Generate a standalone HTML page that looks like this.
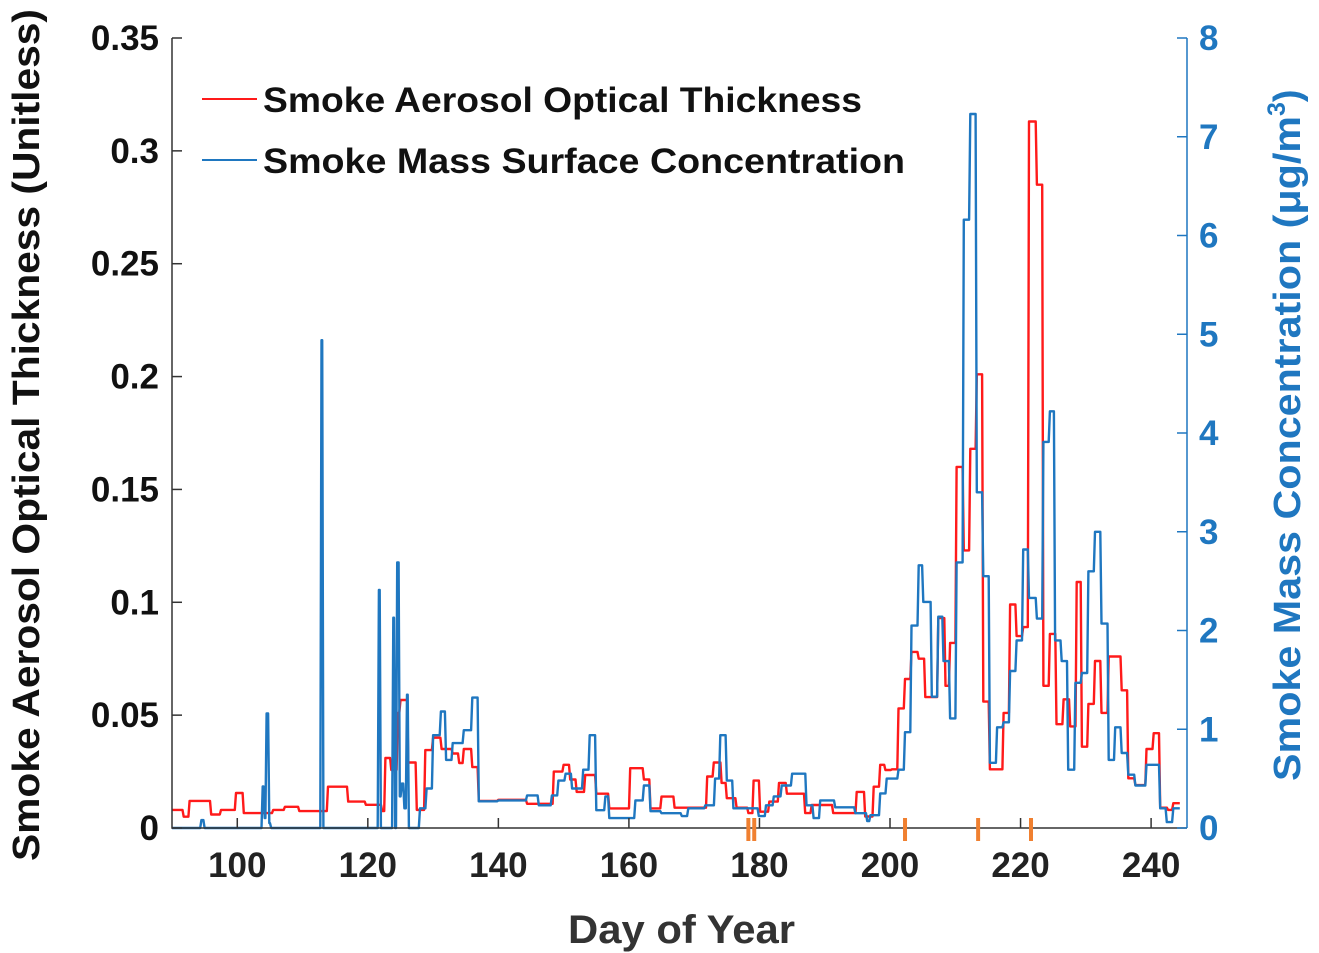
<!DOCTYPE html>
<html><head><meta charset="utf-8"><style>
html,body{margin:0;padding:0;background:#fff;}
svg{display:block;font-family:"Liberation Sans",Arial,sans-serif;font-weight:bold;}
</style></head><body>
<svg id="chart" width="1319" height="953" viewBox="0 0 1319 953">
</svg>
<script>
// Step series: change-point days and values
const aotDays = [90,91.8,92.7,96,97.5,99.8,101,105.5,107.3,109.5,113.9,117,119.7,122.2,122.7,123.6,124.6,125,126.2,127.5,128.8,130,131.3,133,134,134.7,136,137,140,144.4,148.5,150,151,152,153.3,155,157,160.2,162.3,163.3,165,167,172,173,174.2,175,176.5,178.3,179.1,180.1,181.5,183,184.2,187,188,191.3,194.9,196.2,197.5,198.5,199.3,200.3,201.3,202.3,203.3,204.4,205.4,207.4,208.5,209.2,210.2,211.3,212.3,213.3,214.3,215.3,217.4,218.4,219.4,220.4,221.3,222.5,223.5,224.5,225.5,226.6,227.6,228.6,229.4,230.4,231.4,232.4,233.5,235.5,236.5,237.6,239.3,240.4,241.4,242.6,243.4];
const aotVals = [0.008,0.005,0.012,0.006,0.008,0.0155,0.0066,0.008,0.0094,0.0075,0.0183,0.0117,0.0103,0.0075,0.031,0.0257,0.051,0.0567,0.029,0.008,0.0345,0.040,0.035,0.033,0.0288,0.035,0.027,0.012,0.0125,0.0107,0.025,0.028,0.0215,0.016,0.0235,0.0152,0.0087,0.0265,0.0215,0.0087,0.0139,0.009,0.0228,0.029,0.02,0.0132,0.009,0.0066,0.021,0.0072,0.0117,0.020,0.0152,0.0066,0.0102,0.0066,0.016,0.0051,0.0183,0.028,0.0257,0.026,0.053,0.066,0.078,0.075,0.058,0.093,0.063,0.082,0.160,0.123,0.168,0.201,0.056,0.026,0.051,0.099,0.085,0.089,0.313,0.285,0.063,0.086,0.046,0.057,0.045,0.109,0.036,0.055,0.074,0.051,0.076,0.061,0.022,0.019,0.035,0.042,0.009,0.008,0.011];
const smcDays = [90,94.5,95,103.9,104.2,104.5,104.9,105.2,112.9,113.2,113.5,121.7,122.0,122.3,123.9,124.2,124.5,124.9,125.2,125.6,126.0,126.3,126.6,128,129,130,131.2,132,133,134.7,136,137,140,144.4,146.2,148.2,149.2,150.3,151.3,153,154,155,156.4,157,161,162.3,163.3,165,168.1,169.1,171.7,173.2,174,175,176,179.9,181,182.2,183.4,185,187.2,188.3,189.3,191.6,194.7,196.5,197,198.5,199.5,200.3,201.3,202.3,203.3,204.4,205.1,206.4,207.4,208.2,209.2,210.2,211.3,212.3,213.3,214.3,215.3,216.4,217.4,218.4,219.4,220.4,221.3,222.5,223.5,224.5,225.3,226.3,227.3,228.4,229.4,230.4,231.4,232.4,233.5,234.5,235.5,236.5,237.6,239.3,241.4,242.4,243.4];
const smcVals = [0,0.08,0,0.42,0.1,1.16,0.05,0,4.94,0,0,2.41,0,0,2.13,0,2.69,0.32,0.45,0.2,1.35,0,0,0.2,0.4,0.94,1.18,0.69,0.86,0.99,1.32,0.27,0.28,0.33,0.23,0.33,0.48,0.55,0.4,0.59,0.94,0.18,0.32,0.1,0.28,0.43,0.17,0.15,0.12,0.2,0.23,0.5,0.94,0.48,0.2,0.12,0.23,0.32,0.43,0.55,0.23,0.1,0.28,0.21,0.15,0.07,0.13,0.35,0.5,0.5,0.59,0.97,2.05,2.66,2.29,1.33,2.14,1.69,1.11,2.69,6.16,7.23,3.4,2.55,0.66,1.02,1.07,1.59,1.9,2.82,2.33,2.12,3.91,4.22,1.9,1.69,0.59,1.47,1.57,2.6,3.0,2.07,0.69,1.02,0.76,0.54,0.43,0.64,0.2,0.06,0.2];
const xTicks = [100,120,140,160,180,200,220,240];
const yLeftTicks = [0,0.05,0.1,0.15,0.2,0.25,0.3,0.35];
const yLeftLabels = ["0","0.05","0.1","0.15","0.2","0.25","0.3","0.35"];
const yRightTicks = [0,1,2,3,4,5,6,7,8];
const markerDays = [178.3,179.2,202.3,213.5,221.6];

const L=172,R=1187,T=38,B=828;
const xMin=90,xMax=245.5;
const X=d=>L+(d-xMin)/(xMax-xMin)*(R-L);
const YL=v=>B-v/0.35*(B-T);
const YR=v=>B-v/8*(B-T);
const NS="http://www.w3.org/2000/svg";
const svg=document.getElementById('chart');
function mk(tag,attrs,parent){const e=document.createElementNS(NS,tag);for(const k in attrs)e.setAttribute(k,attrs[k]);(parent||svg).appendChild(e);return e;}

function stepPath(days,vals,Y){let d='M'+X(days[0]).toFixed(1)+' '+Y(vals[0]).toFixed(1);
 for(let i=1;i<days.length;i++){d+=' L'+(X(days[i])-1.2).toFixed(1)+' '+Y(vals[i-1]).toFixed(1)+' L'+X(days[i]).toFixed(1)+' '+Y(vals[i]).toFixed(1);}
 d+=' L'+X(244.4).toFixed(1)+' '+Y(vals[vals.length-1]).toFixed(1);return d;}
const pa=mk('path',{d:stepPath(aotDays,aotVals,YL),fill:'none',stroke:'#ff1a1a','stroke-width':2.4,'stroke-linejoin':'round'});


const ps=mk('path',{d:stepPath(smcDays,smcVals,YR),fill:'none',stroke:'#1f77c0','stroke-width':2.4,'stroke-linejoin':'round'});



const ax=mk('path',{d:`M${L} ${T} V${B} H${R}`,fill:'none',stroke:'#333','stroke-width':1.5});


const ar=mk('line',{x1:R,y1:T,x2:R,y2:B,stroke:'#1f77c0','stroke-width':1.5});



xTicks.forEach(t=>{const x=X(t);
 const l=mk('line',{x1:x,y1:B,x2:x,y2:B-10,stroke:'#333','stroke-width':1.5});
 
 
 const tx=mk('text',{x:x,y:877,'text-anchor':'middle','font-size':35,fill:'#222'});tx.textContent=t;
 
 });
yLeftTicks.forEach((t,i)=>{const y=YL(t);
 const l=mk('line',{x1:L,y1:y,x2:L+10,y2:y,stroke:'#333','stroke-width':1.5});
 
 
 const tx=mk('text',{x:159,y:y+12,'text-anchor':'end','font-size':35,fill:'#111'});tx.textContent=yLeftLabels[i];
 
 });
yRightTicks.forEach(t=>{const y=YR(t);
 const l=mk('line',{x1:R,y1:y,x2:R-10,y2:y,stroke:'#1f77c0','stroke-width':1.5});
 
 
 const tx=mk('text',{x:1199,y:y+12,'text-anchor':'start','font-size':35,fill:'#1f77c0'});tx.textContent=t;
 
 });
markerDays.forEach(d=>{const x=X(d);
 const m=mk('line',{x1:x,y1:818,x2:x,y2:841,stroke:'#f08030','stroke-width':4});
 
 });
</script>
<div style="position:absolute;left:0;top:0;width:1319px;height:953px;pointer-events:none">
<svg width="1319" height="953" style="font-family:'Liberation Sans',Arial,sans-serif;font-weight:bold">
<g>
<line x1="202" y1="99" x2="257" y2="99" stroke="#ff1a1a" stroke-width="2"/>
<text x="263" y="112" font-size="35" textLength="599" lengthAdjust="spacingAndGlyphs" fill="#111">Smoke Aerosol Optical Thickness</text>
<line x1="202" y1="160" x2="257" y2="160" stroke="#1f77c0" stroke-width="2"/>
<text x="263" y="173" font-size="35" textLength="642" lengthAdjust="spacingAndGlyphs" fill="#111">Smoke Mass Surface Concentration</text>
</g>
<text x="568" y="943" font-size="40" textLength="227" lengthAdjust="spacingAndGlyphs" fill="#333">Day of Year</text>
<text transform="translate(39,861) rotate(-90)" font-size="38" textLength="852" lengthAdjust="spacingAndGlyphs" fill="#111">Smoke Aerosol Optical Thickness (Unitless)</text>
<text transform="translate(1300,781) rotate(-90)" font-size="38" fill="#1f77c0"><tspan textLength="665" lengthAdjust="spacingAndGlyphs">Smoke Mass Concentration (μg/m</tspan><tspan dy="-15" font-size="25">3</tspan><tspan dy="15">)</tspan></text>
</svg></div>
</body></html>
